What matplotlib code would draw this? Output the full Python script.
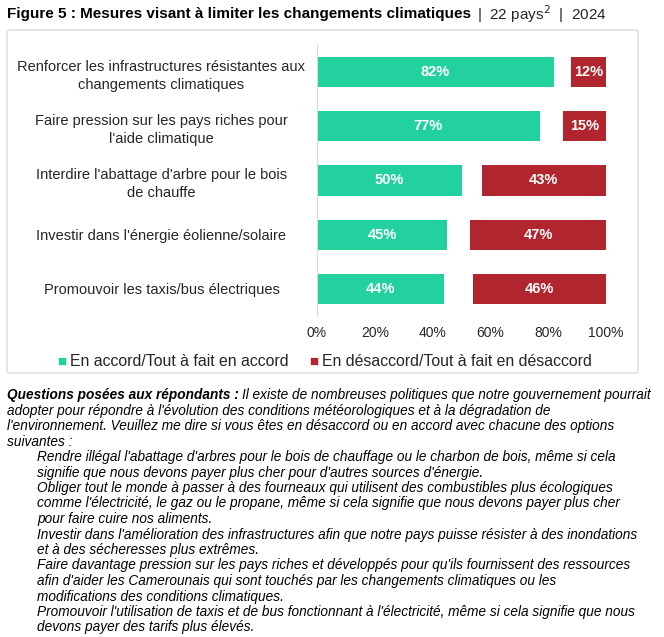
import matplotlib.pyplot as plt
from matplotlib.patches import FancyBboxPatch

plt.rcParams['font.family'] = ['Liberation Sans', 'DejaVu Sans']

# data
categories = [
    "Renforcer les infrastructures résistantes aux\nchangements climatiques",
    "Faire pression sur les pays riches pour\nl'aide climatique",
    "Interdire l'abattage d'arbre pour le bois\nde chauffe",
    "Investir dans l'énergie éolienne/solaire",
    "Promouvoir les taxis/bus électriques",
]
agree = [82, 77, 50, 45, 44]
disagree = [12, 15, 43, 47, 46]
xticks = [0, 20, 40, 60, 80, 100]
legend_labels = ["En accord/Tout à fait en accord", "En désaccord/Tout à fait en désaccord"]

GREEN = "#23D19F"
RED = "#B1252E"
TXT = "#262626"

W, H = 664, 637
fig = plt.figure(figsize=(W / 100, H / 100), dpi=100)

def fx(px):
    return px / W

def fy(py):
    return 1 - py / H

# rounded frame around the chart part (behind the axes)
frame = FancyBboxPatch((fx(7), fy(373)), fx(631), (373 - 30) / H,
                       boxstyle="round,pad=0,rounding_size=0.004",
                       transform=fig.transFigure, facecolor="white",
                       edgecolor="#D9D9D9", linewidth=1.0, zorder=-5)
fig.add_artist(frame)

ax = fig.add_axes([fx(317), fy(316), fx(606) - fx(317), (316 - 45) / H])
ypos = list(range(len(categories)))
ax.barh(ypos, agree, height=0.56, color=GREEN)
ax.barh(ypos, disagree, left=[100 - d for d in disagree], height=0.56, color=RED)

for y, a, d in zip(ypos, agree, disagree):
    ax.text(a / 2, y, f"{a}%", ha="center", va="center", color="white",
            fontsize=10.5, fontweight="bold")
    ax.text(100 - d / 2, y, f"{d}%", ha="center", va="center", color="white",
            fontsize=10.5, fontweight="bold")

ax.set_xlim(0, 100)
ax.set_ylim(len(categories) - 0.5, -0.5)
ax.set_xticks(xticks)
ax.set_xticklabels([f"{t}%" for t in xticks], fontsize=10, color=TXT)
ax.set_yticks(ypos)
ax.set_yticklabels(categories, fontsize=10.5, color=TXT, ha="center",
                   multialignment="center", linespacing=1.4)
ax.tick_params(axis="y", length=0, pad=112)
ax.tick_params(axis="x", length=0, pad=7)
for s in ["top", "right", "bottom"]:
    ax.spines[s].set_visible(False)
ax.spines["left"].set_color("#D9D9D9")
ax.set_facecolor("none")

# legend, drawn by hand to place it like the original
fig.text(fx(57), fy(362), "■", color=GREEN, fontsize=11, va="center", ha="left")
fig.text(fx(70), fy(362), legend_labels[0], color=TXT, fontsize=11.4, va="center")
fig.text(fx(309), fy(362), "■", color=RED, fontsize=11, va="center", ha="left")
fig.text(fx(322), fy(362), legend_labels[1], color=TXT, fontsize=11.4, va="center")

# title
renderer = fig.canvas.get_renderer()
t1 = fig.text(fx(7), fy(14), "Figure 5 : Mesures visant à limiter les changements climatiques",
              fontsize=11, fontweight="bold", color="black", va="center")
bb = t1.get_window_extent(renderer)
fig.text(bb.x1 / W + fx(6), fy(14), "|  22 pays$^2$  |  2024", fontsize=11,
         color=TXT, va="center")

# notes under the chart
FS = 9.8
q1 = fig.text(fx(7), fy(395), "Questions posées aux répondants :", fontsize=FS,
              fontweight="bold", style="italic", color="black", va="center")
bb = q1.get_window_extent(renderer)
fig.text(bb.x1 / W + fx(3), fy(395),
         "Il existe de nombreuses politiques que notre gouvernement pourrait",
         fontsize=FS, style="italic", color="black", va="center")

note_lines = [
    (7, "adopter pour répondre à l'évolution des conditions météorologiques et à la dégradation de"),
    (7, "l'environnement. Veuillez me dire si vous êtes en désaccord ou en accord avec chacune des options"),
    (7, "suivantes :"),
    (37, "Rendre illégal l'abattage d'arbres pour le bois de chauffage ou le charbon de bois, même si cela"),
    (37, "signifie que nous devons payer plus cher pour d'autres sources d'énergie."),
    (37, "Obliger tout le monde à passer à des fourneaux qui utilisent des combustibles plus écologiques"),
    (37, "comme l'électricité, le gaz ou le propane, même si cela signifie que nous devons payer plus cher"),
    (37, "pour faire cuire nos aliments."),
    (37, "Investir dans l'amélioration des infrastructures afin que notre pays puisse résister à des inondations"),
    (37, "et à des sécheresses plus extrêmes."),
    (37, "Faire davantage pression sur les pays riches et développés pour qu'ils fournissent des ressources"),
    (37, "afin d'aider les Camerounais qui sont touchés par les changements climatiques ou les"),
    (37, "modifications des conditions climatiques."),
    (37, "Promouvoir l'utilisation de taxis et de bus fonctionnant à l'électricité, même si cela signifie que nous"),
    (37, "devons payer des tarifs plus élevés."),
]
for i, (x, line) in enumerate(note_lines):
    fig.text(fx(x), fy(395 + 15.5 * (i + 1)), line, fontsize=FS, style="italic",
             color="black", va="center")

fig.savefig("out.png", dpi=100, facecolor="white")
